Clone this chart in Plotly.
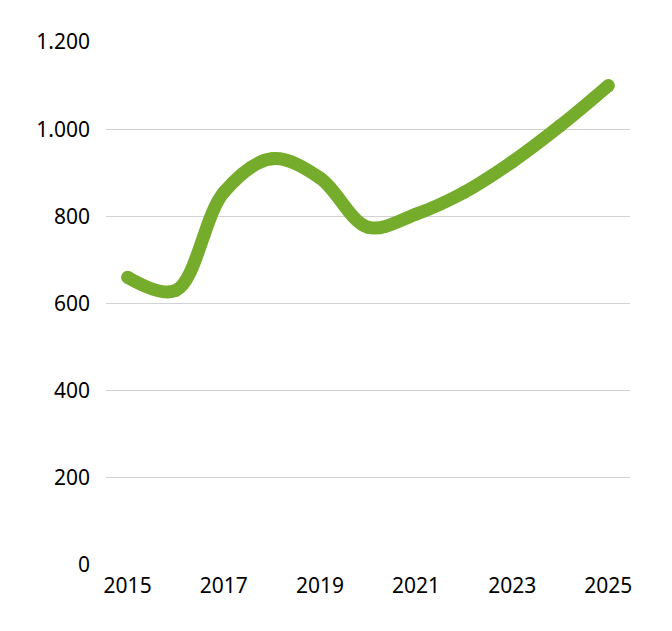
import plotly.graph_objects as go

# Datos
anios = [2015, 2016, 2017, 2018, 2019, 2020, 2021, 2022, 2023, 2024, 2025]
valores = [660, 630, 855, 932, 888, 775, 805, 855, 925, 1008, 1100]

verde = '#76ac2c'

fig = go.Figure()
fig.add_trace(go.Scatter(
    x=anios,
    y=valores,
    mode='lines+markers',
    line=dict(color=verde, width=13, shape='spline', smoothing=1),
    marker=dict(color=verde, size=13),
    hoverinfo='x+y',
))

fig.update_layout(
    width=672, height=631,
    margin=dict(l=98, r=50, t=34, b=74),
    paper_bgcolor='white', plot_bgcolor='white',
    showlegend=False,
    separators=',.',
    font=dict(family='Noto Sans, Liberation Sans, sans-serif', size=21, color='#000000'),
    xaxis=dict(
        range=[2014.55, 2025.45],
        tickvals=[2015, 2017, 2019, 2021, 2023, 2025],
        showgrid=False, zeroline=False, showline=False,
        ticklabelstandoff=6,
    ),
    yaxis=dict(
        range=[0, 1200],
        tickvals=[0, 200, 400, 600, 800, 1000, 1200],
        tickformat=',d',
        showgrid=True, gridcolor='#d2d2d2', gridwidth=1,
        zeroline=False, showline=False,
        ticklabelstandoff=15,
    ),
)

fig.write_html('out.html')
